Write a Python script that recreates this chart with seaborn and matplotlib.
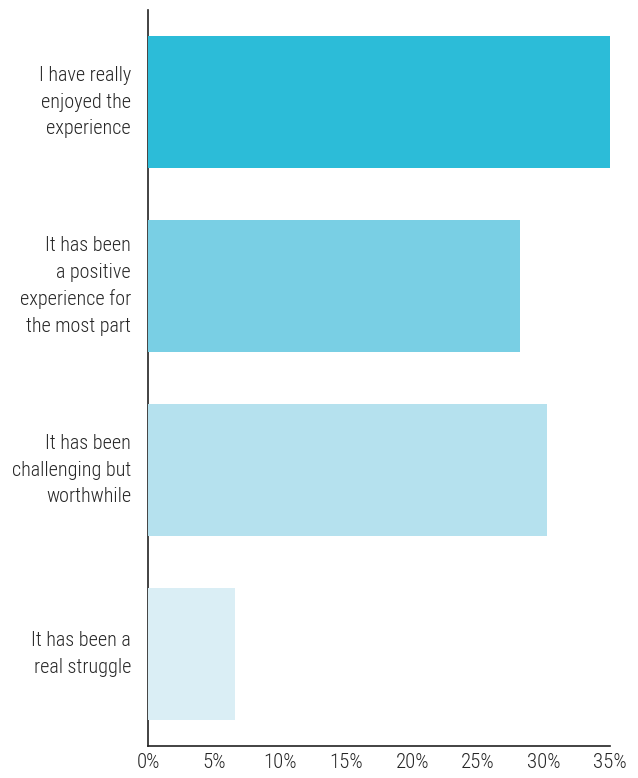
import matplotlib
matplotlib.use("Agg")
import matplotlib.pyplot as plt
import seaborn as sns
import pandas as pd
from matplotlib.ticker import FuncFormatter

categories = [
    "I have really\nenjoyed the\nexperience",
    "It has been\na positive\nexperience for\nthe most part",
    "It has been\nchallenging but\nworthwhile",
    "It has been a\nreal struggle",
]
shares = [35.0, 28.2, 30.2, 6.6]
bar_colors = ["#2CBCD8", "#79CFE4", "#B5E1EE", "#DAEEF5"]
x_ticks = [0, 5, 10, 15, 20, 25, 30, 35]

sns.set_theme(style="white")
plt.rcParams["font.family"] = ["Roboto Condensed", "Liberation Sans", "DejaVu Sans"]

df = pd.DataFrame({"answer": categories, "share": shares})

fig = plt.figure(figsize=(6.38, 7.78), dpi=100)
ax = fig.add_axes([148.3 / 638, 1 - 746 / 778, (610 - 148.3) / 638, (746 - 10) / 778])

sns.barplot(data=df, x="share", y="answer", hue="answer", palette=bar_colors,
            legend=False, width=0.72, saturation=1, ax=ax, zorder=3,
            edgecolor="none", linewidth=0)

ax.set_xlim(0, 35)
ax.set_ylim(3.5, -0.5)
ax.set_xticks(x_ticks)
ax.xaxis.set_major_formatter(FuncFormatter(lambda v, p: f"{v:.0f}%"))
ax.set_xlabel("")
ax.set_ylabel("")

text_color = "#262626"
ax.tick_params(axis="x", direction="in", length=11.5, width=1, color="#222222",
               labelsize=15, labelcolor=text_color, pad=5)
ax.tick_params(axis="y", length=0, labelsize=14.5, labelcolor=text_color, pad=12.5)
for lbl in ax.get_xticklabels() + ax.get_yticklabels():
    lbl.set_fontweight("light")
for lbl in ax.get_yticklabels():
    lbl.set_horizontalalignment("right")
    lbl.set_verticalalignment("center")
    lbl.set_linespacing(1.5)

for side in ["top", "right"]:
    ax.spines[side].set_visible(False)
for side in ["left", "bottom"]:
    ax.spines[side].set_color("#222222")
    ax.spines[side].set_linewidth(1.2)

fig.savefig("out.png", dpi=100)
